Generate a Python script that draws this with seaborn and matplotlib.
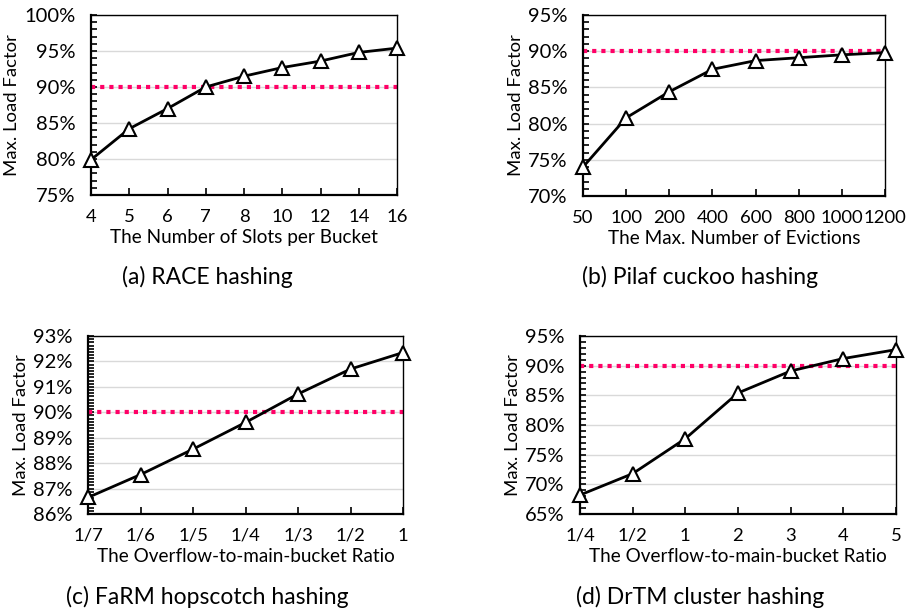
import numpy as np
import pandas as pd
import matplotlib
matplotlib.use("Agg")
import matplotlib.pyplot as plt
import seaborn as sns
from matplotlib.ticker import MultipleLocator, FuncFormatter

sns.set_theme(style="white")
plt.rcParams['font.family'] = ['Lato', 'DejaVu Sans']

# ---- data ----
race_x = ["4", "5", "6", "7", "8", "10", "12", "14", "16"]
race_y = [79.9, 84.2, 87.0, 90.0, 91.5, 92.7, 93.6, 94.8, 95.4]

pilaf_x = ["50", "100", "200", "400", "600", "800", "1000", "1200"]
pilaf_y = [74.0, 80.8, 84.4, 87.5, 88.7, 89.1, 89.5, 89.8]

farm_x = ["1/7", "1/6", "1/5", "1/4", "1/3", "1/2", "1"]
farm_y = [86.65, 87.55, 88.55, 89.6, 90.72, 91.7, 92.35]

drtm_x = ["1/4", "1/2", "1", "2", "3", "4", "5"]
drtm_y = [68.2, 71.8, 77.7, 85.4, 89.1, 91.2, 92.7]

threshold = 90.0

panels = [
    dict(x=race_x, y=race_y, xlabel="The Number of Slots per Bucket",
         caption="(a) RACE hashing", ylim=(75, 100), major=5, minor=1,
         rect=(91, 15, 397, 195), cap=(207, 277)),
    dict(x=pilaf_x, y=pilaf_y, xlabel="The Max. Number of Evictions",
         caption="(b) Pilaf cuckoo hashing", ylim=(70, 95), major=5, minor=1,
         rect=(583, 15, 885, 196), cap=(700, 277)),
    dict(x=farm_x, y=farm_y, xlabel="The Overflow-to-main-bucket Ratio",
         caption="(c) FaRM hopscotch hashing", ylim=(86, 93), major=1, minor=0.125,
         rect=(88, 336, 403, 514), cap=(207, 597)),
    dict(x=drtm_x, y=drtm_y, xlabel="The Overflow-to-main-bucket Ratio",
         caption="(d) DrTM cluster hashing", ylim=(65, 95), major=5, minor=1,
         rect=(580, 336, 896, 514), cap=(700, 597)),
]

W, H = 906, 614
fig = plt.figure(figsize=(W / 100, H / 100), dpi=100)

for p in panels:
    l, t, r, b = p["rect"]
    ax = fig.add_axes([l / W, 1 - b / H, (r - l) / W, (b - t) / H])
    df = pd.DataFrame({"pos": np.arange(len(p["x"])), "val": p["y"]})
    ax.axhline(threshold, color="#FF0066", lw=3, linestyle=(0, (1, 1.2)), zorder=2)
    sns.lineplot(data=df, x="pos", y="val", ax=ax, color="black", lw=2,
                 marker="^", markersize=10, markerfacecolor="white",
                 markeredgecolor="black", markeredgewidth=1.5, zorder=3,
                 clip_on=False)
    ax.set_xlim(0, len(p["x"]) - 1)
    ax.set_ylim(*p["ylim"])
    ax.set_xticks(df["pos"])
    ax.set_xticklabels(p["x"])
    ax.yaxis.set_major_locator(MultipleLocator(p["major"]))
    ax.yaxis.set_minor_locator(MultipleLocator(p["minor"]))
    ax.yaxis.set_major_formatter(FuncFormatter(lambda v, _: f"{v:.0f}%"))
    ax.grid(axis="y", which="major", color="#d9d9d9", lw=1)
    ax.set_axisbelow(True)
    for s in ["left", "bottom"]:
        ax.spines[s].set_linewidth(1.6)
        ax.spines[s].set_color("black")
    for s in ["top", "right"]:
        ax.spines[s].set_linewidth(1.0)
        ax.spines[s].set_color("black")
    ax.tick_params(axis="y", which="both", direction="in", length=4, width=1.2,
                   color="black", left=True, labelsize=14.5, pad=11, labelcolor="black")
    ax.tick_params(axis="x", which="major", direction="in", length=5, width=1.2,
                   color="black", bottom=True, labelsize=13.3, pad=10, labelcolor="black")
    ax.set_xlabel(p["xlabel"], fontsize=13.6, labelpad=3, color="black")
    ax.set_ylabel("Max. Load Factor", fontsize=13.3, labelpad=3, color="black")
    fig.text(p["cap"][0] / W, 1 - p["cap"][1] / H, p["caption"], fontsize=16.5,
             ha="center", va="center", color="black")

fig.savefig("out.png", dpi=100)
